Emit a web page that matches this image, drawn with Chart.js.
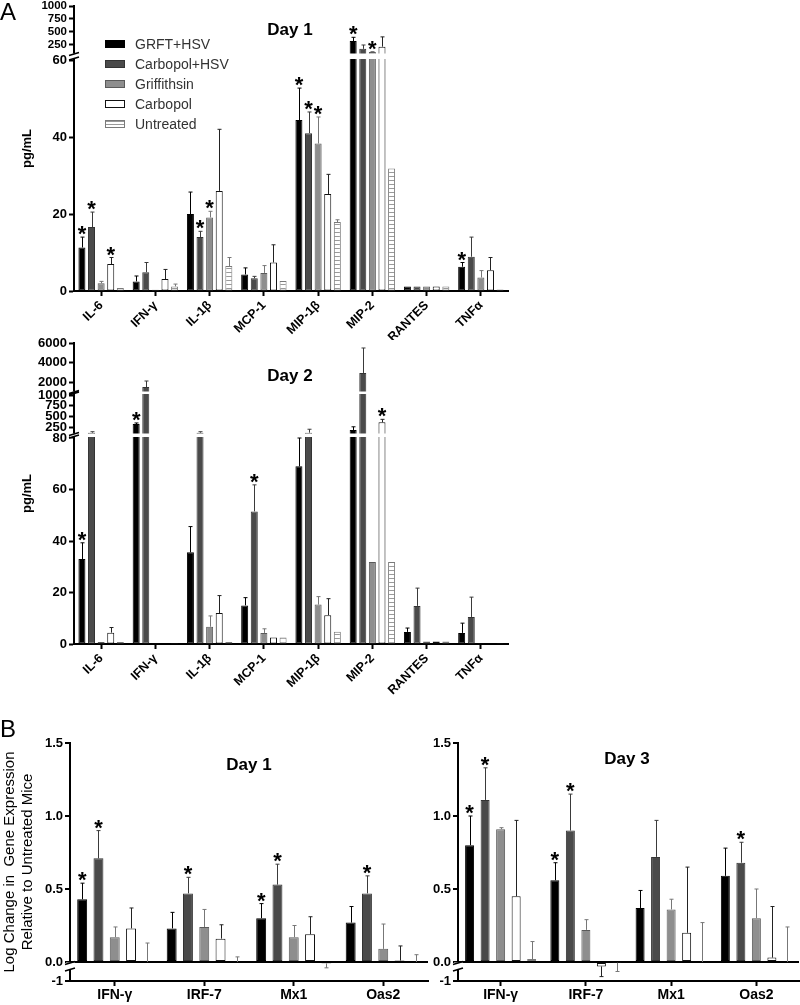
<!DOCTYPE html>
<html>
<head>
<meta charset="utf-8">
<script src="https://cdn.jsdelivr.net/npm/chart.js@4.4.1/dist/chart.umd.min.js"></script>
<style>
  body { margin: 0; background: #fff; }
  #fig { position: relative; width: 800px; height: 1005px; font-family: "Liberation Sans", Arial, sans-serif; color: #000; }
  #fig canvas { position: absolute; }
  .lbl { position: absolute; white-space: nowrap; }
  .panel { font-size: 24px; line-height: 24px; }
  .day { font-weight: bold; font-size: 17px; line-height: 17px; transform: translate(-50%, -50%); }
  #legend { position: absolute; left: 105px; top: 34px; font-size: 14px; color: #333; }
  #legend .row { display: flex; align-items: center; height: 20px; }
  #legend .sw { width: 18px; height: 6px; border: 1px solid #000; margin-right: 10px; }
</style>
</head>
<body>
<div id="fig">
  <canvas id="a1" width="510" height="340" style="left:0;top:0"></canvas>
  <canvas id="a2" width="510" height="370" style="left:0;top:330px"></canvas>
  <canvas id="b1" width="430" height="305" style="left:0;top:700px"></canvas>
  <canvas id="b3" width="370" height="305" style="left:430px;top:700px"></canvas>
  <div class="lbl panel" style="left:0;top:0">A</div>
  <div class="lbl panel" style="left:0;top:717px">B</div>
  <div class="lbl day" style="left:290px;top:29px">Day 1</div>
  <div class="lbl day" style="left:290px;top:375px">Day 2</div>
  <div class="lbl day" style="left:249px;top:764px">Day 1</div>
  <div class="lbl day" style="left:627px;top:758px">Day 3</div>
  <div id="legend"></div>
</div>
<script>
// categories and groups
const cytokines = ['IL-6', 'IFN-γ', 'IL-1β', 'MCP-1', 'MIP-1β', 'MIP-2', 'RANTES', 'TNFα'];
const genes = ['IFN-γ', 'IRF-7', 'Mx1', 'Oas2'];
const groups = ['GRFT+HSV', 'Carbopol+HSV', 'Griffithsin', 'Carbopol', 'Untreated'];

// A, day 1 (pg/mL): means, SEM, significance
const d1GrftHsv = [11.3, 2.5, 20.0, 4.3, 44.4, 322, 1.2, 6.3];
const d1CarbHsv = [16.6, 4.9, 14.0, 3.3, 41.0, 170, 1.2, 8.9];
const d1Grft    = [2.0, 0.3, 19.1, 4.7, 38.3, 110, 1.2, 3.5];
const d1Carb    = [7.0, 3.1, 26.0, 7.4, 25.2, 212, 1.2, 5.4];
const d1Untr    = [0.8, 1.2, 6.5, 2.6, 17.9, 31.8, 1.2, 0.4];
const d1GrftHsvSem = [2.7, 1.4, 5.7, 1.7, 8.3, 72, 0, 1.1];
const d1CarbHsvSem = [3.9, 2.5, 1.5, 0.5, 5.5, 75, 0, 5.1];
const d1GrftSem    = [0.5, 0, 1.6, 1.9, 6.9, 8, 0, 1.8];
const d1CarbSem    = [1.7, 2.5, 16.0, 4.6, 5.1, 190, 0, 3.3];
const d1UntrSem    = [0, 0.6, 2.2, 0, 0.6, 0, 0, 0];
const d1GrftHsvSig = [1, 0, 0, 0, 1, 1, 0, 1];
const d1CarbHsvSig = [1, 0, 1, 0, 1, 0, 0, 0];
const d1GrftSig    = [0, 0, 1, 0, 1, 1, 0, 0];
const d1CarbSig    = [1, 0, 0, 0, 0, 0, 0, 0];
const d1UntrSig    = [0, 0, 0, 0, 0, 0, 0, 0];

// A, day 2 (pg/mL)
const d2GrftHsv = [33.0, 320, 35.6, 15.0, 69.0, 180, 4.7, 4.3];
const d2CarbHsv = [118, 1500, 118, 51.5, 118, 2940, 14.8, 10.5];
const d2Grft    = [0.8, 0.3, 6.7, 4.3, 15.3, 31.8, 1.0, 0.3];
const d2Carb    = [4.4, 0.3, 12.0, 2.5, 11.2, 360, 1.0, 0.3];
const d2Untr    = [0.8, 0.3, 0.8, 2.5, 4.8, 31.8, 1.0, 0.3];
const d2GrftHsvSem = [6.3, 25, 10.0, 3.0, 11.0, 75, 1.5, 3.8];
const d2CarbHsvSem = [22, 620, 22, 10.3, 80, 2550, 6.9, 7.7];
const d2GrftSem    = [0, 0, 4.2, 1.6, 3.1, 0, 0, 0];
const d2CarbSem    = [2.0, 0, 6.8, 0, 6.4, 70, 0, 0];
const d2UntrSem    = [0, 0, 0, 0, 0, 0, 0, 0];
const d2GrftHsvSig = [1, 1, 0, 0, 0, 0, 0, 0];
const d2CarbHsvSig = [0, 0, 0, 1, 0, 0, 0, 0];
const d2GrftSig    = [0, 0, 0, 0, 0, 0, 0, 0];
const d2CarbSig    = [0, 0, 0, 0, 0, 1, 0, 0];
const d2UntrSig    = [0, 0, 0, 0, 0, 0, 0, 0];

// B, day 1 (log change)
const b1GrftHsv = [0.43, 0.23, 0.30, 0.27];
const b1CarbHsv = [0.71, 0.47, 0.53, 0.47];
const b1Grft    = [0.17, 0.24, 0.17, 0.09];
const b1Carb    = [0.23, 0.16, 0.19, 0.01];
const b1Untr    = [0, 0, -0.01, 0];
const b1GrftHsvSem = [0.11, 0.11, 0.10, 0.11];
const b1CarbHsvSem = [0.19, 0.11, 0.14, 0.12];
const b1GrftSem    = [0.07, 0.12, 0.08, 0.17];
const b1CarbSem    = [0.14, 0.095, 0.12, 0.10];
const b1UntrSem    = [0.13, 0.035, 0.03, 0.05];
const b1GrftHsvSig = [1, 0, 1, 0];
const b1CarbHsvSig = [1, 1, 1, 1];
const b1GrftSig    = [0, 0, 0, 0];
const b1CarbSig    = [0, 0, 0, 0];
const b1UntrSig    = [0, 0, 0, 0];

// B, day 3 (log change)
const b3GrftHsv = [0.80, 0.56, 0.37, 0.59];
const b3CarbHsv = [1.11, 0.90, 0.72, 0.68];
const b3Grft    = [0.91, 0.22, 0.36, 0.30];
const b3Carb    = [0.45, -0.03, 0.20, 0.03];
const b3Untr    = [0.02, -0.005, 0, 0];
const b3GrftHsvSem = [0.20, 0.12, 0.12, 0.19];
const b3CarbHsvSem = [0.22, 0.25, 0.25, 0.14];
const b3GrftSem    = [0.01, 0.07, 0.07, 0.20];
const b3CarbSem    = [0.52, 0.07, 0.45, 0.35];
const b3UntrSem    = [0.12, 0.06, 0.27, 0.24];
const b3GrftHsvSig = [1, 1, 0, 0];
const b3CarbHsvSig = [1, 1, 0, 1];
const b3GrftSig    = [0, 0, 0, 0];
const b3CarbSig    = [0, 0, 0, 0];
const b3UntrSig    = [0, 0, 0, 0];

// tick values
const a1Ticks = [0, 20, 40, 60, 250, 500, 750, 1000];
const a2Ticks = [0, 20, 40, 60, 80, 250, 500, 750, 1000, 2000, 4000, 6000];
const bTicks = [-1, 0, 0.5, 1.0, 1.5];

// styles
const barFills = ['#000', '#4a4a4a', '#8e8e8e', '#fff', null];
const barBorders = ['#000', '#333', '#5a5a5a', '#111', '#7a7a7a'];
const errColors = ['#000', '#3a3a3a', '#777', '#222', '#777'];
const swatchCss = ['#000', '#4a4a4a', '#8e8e8e', '#fff', 'repeating-linear-gradient(#9a9a9a 0 1px, #fff 1px 3px)'];

// broken axis pieces: value range -> fraction of the axis height (0 = bottom)
const SEGMENTS = {
  a1: [{ min: 0, max: 60, from: 0, to: 231 / 285 }, { min: 90, max: 1000, from: 238 / 285, to: 1 }],
  a2: [{ min: 0, max: 80, from: 0, to: 206 / 301 }, { min: 110, max: 1000, from: 211 / 301, to: 249 / 301 },
       { min: 1100, max: 6000, from: 253 / 301, to: 1 }],
  b1: [{ min: -1, max: -0.9, from: 0, to: 10 / 238 }, { min: 0, max: 1.5, from: 19 / 238, to: 1 }],
  b3: [{ min: -1, max: -0.9, from: 0, to: 10 / 238 }, { min: 0, max: 1.5, from: 19 / 238, to: 1 }]
};

class BrokenScale extends Chart.LinearScale {
  static id = 'broken';
  static defaults = Chart.LinearScale.defaults;
  getPixelForValue(value) {
    if (value === null || value === undefined) return NaN;
    const segs = SEGMENTS[this.options.segKey];
    let s = segs[segs.length - 1];
    for (const seg of segs) {
      if (value <= seg.max) { s = seg; break; }
    }
    const d = s.from + (value - s.min) / (s.max - s.min) * (s.to - s.from);
    return this.getPixelForDecimal(d);
  }
  getValueForPixel(pixel) {
    const d = this.getDecimalForPixel(pixel);
    const segs = SEGMENTS[this.options.segKey];
    let s = segs[segs.length - 1];
    for (const seg of segs) {
      if (d <= seg.to) { s = seg; break; }
    }
    return s.min + (d - s.from) / (s.to - s.from) * (s.max - s.min);
  }
}
Chart.register(BrokenScale);

Chart.defaults.font.family = '"Liberation Sans", Arial, sans-serif';
Chart.defaults.color = '#000';

const errorBars = {
  id: 'errorBars',
  afterDatasetsDraw(chart) {
    const { ctx } = chart;
    const y = chart.scales.y;
    ctx.save();
    chart.data.datasets.forEach((ds, i) => {
      chart.getDatasetMeta(i).data.forEach((bar, j) => {
        const v = ds.data[j];
        const e = ds.sem[j];
        const dir = v < 0 ? -1 : 1;
        const y0 = y.getPixelForValue(v);
        const y1 = y.getPixelForValue(v + dir * e);
        const x = Math.round(bar.x) + 0.5;
        if (e > 0) {
          ctx.strokeStyle = ds.errColor;
          ctx.lineWidth = 1;
          ctx.beginPath();
          ctx.moveTo(x, y0);
          ctx.lineTo(x, y1);
          ctx.moveTo(x - 2, y1);
          ctx.lineTo(x + 2, y1);
          ctx.stroke();
        }
        if (ds.sig[j]) {
          ctx.fillStyle = '#000';
          ctx.font = 'bold 22px "Liberation Sans", Arial';
          ctx.textAlign = 'center';
          ctx.textBaseline = 'alphabetic';
          ctx.fillText('*', bar.x, Math.min(y0, y1) + 4);
        }
      });
    });
    ctx.restore();
  }
};

// white gaps and break marks where the axis is cut
const breaks = {
  id: 'breaks',
  afterDatasetsDraw(chart) {
    const { ctx, chartArea } = chart;
    const y = chart.scales.y;
    const segs = SEGMENTS[y.options.segKey];
    const full = y.options.gapFull;
    const ax = y.right;
    ctx.save();
    for (let i = 0; i < segs.length - 1; i++) {
      const yLow = y.getPixelForDecimal(segs[i].to);
      const yHigh = y.getPixelForDecimal(segs[i + 1].from);
      ctx.fillStyle = '#fff';
      const x0 = ax - 4;
      const x1 = full ? chartArea.right + 1 : ax + 5;
      ctx.fillRect(x0, yHigh + 0.5, x1 - x0, yLow - yHigh - 1.5);
      ctx.strokeStyle = '#000';
      ctx.lineWidth = 1.5;
      ctx.beginPath();
      [yHigh + 1, yLow - 1.5].forEach(yy => {
        ctx.moveTo(ax - 5, yy + 1.5);
        ctx.lineTo(ax + 5, yy - 1.5);
      });
      ctx.stroke();
    }
    ctx.restore();
  }
};

function stripePattern(ctx) {
  const c = document.createElement('canvas');
  c.width = 4;
  c.height = 4;
  const g = c.getContext('2d');
  g.fillStyle = '#fff';
  g.fillRect(0, 0, 4, 4);
  g.fillStyle = '#9a9a9a';
  g.fillRect(0, 0, 4, 1);
  return ctx.createPattern(c, 'repeat');
}

function drawPanel(id, p) {
  const ctx = document.getElementById(id).getContext('2d');
  const fills = barFills.slice();
  fills[4] = stripePattern(ctx);
  const isB = p.labels === genes;
  return new Chart(ctx, {
    type: 'bar',
    data: {
      labels: p.labels,
      datasets: groups.map((g, i) => ({
        label: g,
        data: p.means[i],
        sem: p.sems[i],
        sig: p.sigs[i],
        errColor: errColors[i],
        backgroundColor: fills[i],
        borderColor: barBorders[i],
        borderWidth: 1,
        borderSkipped: false,
        categoryPercentage: p.catPct,
        barPercentage: p.barPct
      }))
    },
    options: {
      responsive: false,
      animation: false,
      events: [],
      layout: { padding: { top: p.padTop, right: p.padRight, left: 0, bottom: 0 } },
      plugins: { legend: { display: false }, tooltip: { enabled: false } },
      scales: {
        x: {
          afterFit: s => { s.height = p.xHeight; s.paddingLeft = 0; s.paddingRight = 0; },
          ticks: {
            autoSkip: false, minRotation: isB ? 0 : 45, maxRotation: isB ? 0 : 45,
            padding: isB ? 1 : 2, color: '#000',
            font: { size: isB ? 14 : 12.5, weight: 'bold' }
          },
          grid: { offset: false, drawOnChartArea: false, tickLength: 5, tickColor: '#000', tickWidth: 2 },
          border: { color: '#000', width: 2 }
        },
        y: {
          type: 'broken',
          segKey: id,
          gapFull: !isB,
          min: p.ticks[0],
          max: p.ticks[p.ticks.length - 1],
          afterBuildTicks: s => { s.ticks = p.ticks.map(v => ({ value: v })); },
          afterFit: s => { s.width = p.yWidth; s.paddingTop = 0; s.paddingBottom = 0; },
          ticks: {
            autoSkip: false, padding: 2, color: '#000',
            font: p.yFont,
            callback: v => isB ? (v === -1 ? '-1' : v.toFixed(1)) : String(v)
          },
          grid: isB ? {
            drawOnChartArea: true,
            color: c => (c.tick && c.tick.value === 0 ? '#000' : 'rgba(0,0,0,0)'),
            lineWidth: 2, tickLength: 5, tickColor: '#000', tickWidth: 2
          } : { drawOnChartArea: false, tickLength: 5, tickColor: '#000', tickWidth: 2 },
          border: { color: '#000', width: 2 },
          title: p.yTitle
        }
      }
    },
    plugins: [errorBars, breaks]
  });
}

const pgTitle = { display: true, text: 'pg/mL', color: '#000', font: { size: 13, weight: 'bold' }, padding: { top: 20 } };

drawPanel('a1', {
  labels: cytokines,
  means: [d1GrftHsv, d1CarbHsv, d1Grft, d1Carb, d1Untr],
  sems: [d1GrftHsvSem, d1CarbHsvSem, d1GrftSem, d1CarbSem, d1UntrSem],
  sigs: [d1GrftHsvSig, d1CarbHsvSig, d1GrftSig, d1CarbSig, d1UntrSig],
  ticks: a1Ticks, catPct: 0.885, barPct: 0.73,
  padTop: 6, padRight: 2, xHeight: 49, yWidth: 74,
  yFont: c => ({ size: c.tick && c.tick.value > 60 ? 11.5 : 13, weight: 'bold' }),
  yTitle: pgTitle
});

drawPanel('a2', {
  labels: cytokines,
  means: [d2GrftHsv, d2CarbHsv, d2Grft, d2Carb, d2Untr],
  sems: [d2GrftHsvSem, d2CarbHsvSem, d2GrftSem, d2CarbSem, d2UntrSem],
  sigs: [d2GrftHsvSig, d2CarbHsvSig, d2GrftSig, d2CarbSig, d2UntrSig],
  ticks: a2Ticks, catPct: 0.885, barPct: 0.73,
  padTop: 13, padRight: 2, xHeight: 56, yWidth: 74,
  yFont: { size: 13, weight: 'bold' },
  yTitle: pgTitle
});

drawPanel('b1', {
  labels: genes,
  means: [b1GrftHsv, b1CarbHsv, b1Grft, b1Carb, b1Untr],
  sems: [b1GrftHsvSem, b1CarbHsvSem, b1GrftSem, b1CarbSem, b1UntrSem],
  sigs: [b1GrftHsvSig, b1CarbHsvSig, b1GrftSig, b1CarbSig, b1UntrSig],
  ticks: bTicks, catPct: 0.91, barPct: 0.61,
  padTop: 43, padRight: 2, xHeight: 24, yWidth: 70,
  yFont: { size: 13, weight: 'bold' },
  yTitle: {
    display: true, color: '#000',
    text: ['Log Change in  Gene Expression', 'Relative to Untreated Mice'],
    font: { size: 15, weight: 'normal' }, padding: { top: 1 }
  }
});

drawPanel('b3', {
  labels: genes,
  means: [b3GrftHsv, b3CarbHsv, b3Grft, b3Carb, b3Untr],
  sems: [b3GrftHsvSem, b3CarbHsvSem, b3GrftSem, b3CarbSem, b3UntrSem],
  sigs: [b3GrftHsvSig, b3CarbHsvSig, b3GrftSig, b3CarbSig, b3UntrSig],
  ticks: bTicks, catPct: 0.91, barPct: 0.58,
  padTop: 43, padRight: 1, xHeight: 24, yWidth: 28,
  yFont: { size: 13, weight: 'bold' },
  yTitle: { display: false }
});

// legend (panel A, day 1)
const legend = document.getElementById('legend');
groups.forEach((g, i) => {
  const row = document.createElement('div');
  row.className = 'row';
  const sw = document.createElement('span');
  sw.className = 'sw';
  sw.style.background = swatchCss[i];
  sw.style.borderColor = barBorders[i];
  const txt = document.createElement('span');
  txt.textContent = g;
  row.appendChild(sw);
  row.appendChild(txt);
  legend.appendChild(row);
});
</script>
</body>
</html>
